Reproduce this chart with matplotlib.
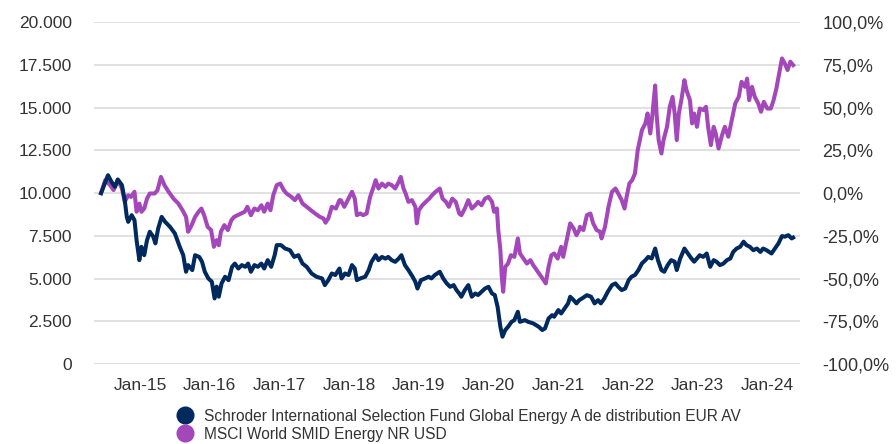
#Import required libraries
import pandas as pd
import matplotlib
matplotlib.use("Agg")
import matplotlib.pyplot as plt
import matplotlib.dates as mdates
from matplotlib.lines import Line2D
from matplotlib.ticker import FuncFormatter, MultipleLocator

plt.rcParams['font.family'] = ['Liberation Sans', 'DejaVu Sans']

#series names
fund_name = "Schroder International Selection Fund Global Energy A de distribution EUR AV"
index_name = "MSCI World SMID Energy NR USD"

#fund values (growth of 10.000), dates as decimal years
fund_years = [2014.44, 2014.54, 2014.59, 2014.64, 2014.68, 2014.74, 2014.78, 2014.81, 2014.83, 2014.88,
              2014.92, 2014.95, 2014.99, 2015.02, 2015.06, 2015.10, 2015.14, 2015.19, 2015.22, 2015.26,
              2015.31, 2015.36, 2015.43, 2015.50, 2015.57, 2015.62, 2015.66, 2015.69, 2015.75, 2015.79,
              2015.85, 2015.89, 2015.93, 2015.98, 2016.03, 2016.07, 2016.10, 2016.13,
              2016.17, 2016.22, 2016.27, 2016.32, 2016.36, 2016.41, 2016.46, 2016.51, 2016.55, 2016.59,
              2016.64, 2016.69, 2016.74, 2016.78, 2016.83, 2016.88, 2016.93, 2016.96, 2017.02, 2017.08,
              2017.15, 2017.21, 2017.27, 2017.33, 2017.39, 2017.46, 2017.53, 2017.61, 2017.65, 2017.70,
              2017.75, 2017.80, 2017.86,
              2017.89, 2017.94, 2017.99, 2018.04, 2018.08, 2018.11, 2018.16, 2018.23, 2018.28, 2018.32,
              2018.38, 2018.42, 2018.47, 2018.52, 2018.56, 2018.61, 2018.66, 2018.71, 2018.75, 2018.80,
              2018.85, 2018.91, 2018.95, 2018.98, 2019.03, 2019.09, 2019.14, 2019.18, 2019.23, 2019.30,
              2019.35, 2019.40, 2019.45, 2019.50, 2019.54, 2019.58,
              2019.61, 2019.66, 2019.71, 2019.76, 2019.81, 2019.85, 2019.90, 2019.95, 2020.00, 2020.05,
              2020.09, 2020.13, 2020.17, 2020.20, 2020.24, 2020.28, 2020.33, 2020.37, 2020.42, 2020.45,
              2020.52, 2020.57, 2020.64, 2020.72, 2020.77, 2020.81, 2020.86, 2020.91, 2020.94, 2021.00,
              2021.04, 2021.09, 2021.14, 2021.17, 2021.22, 2021.26, 2021.30,
              2021.34, 2021.41, 2021.47, 2021.52, 2021.57, 2021.61, 2021.66, 2021.71, 2021.77, 2021.82,
              2021.86, 2021.91, 2021.96, 2022.01, 2022.05, 2022.10, 2022.15, 2022.20, 2022.25, 2022.29,
              2022.34, 2022.39, 2022.43, 2022.48, 2022.52, 2022.57, 2022.62, 2022.67, 2022.70, 2022.75,
              2022.81, 2022.86, 2022.91, 2022.95,
              2023.03, 2023.08, 2023.13, 2023.18, 2023.23, 2023.27, 2023.32, 2023.37, 2023.42, 2023.47,
              2023.51, 2023.56, 2023.61, 2023.66, 2023.70, 2023.75, 2023.80, 2023.85, 2023.90, 2023.94,
              2023.99, 2024.06, 2024.11, 2024.16, 2024.21, 2024.25, 2024.30, 2024.35, 2024.37]
fund_values = [10000, 11050, 10660, 10370, 10800, 10470, 9590, 8610, 8320, 8710,
               8420, 7250, 6080, 6860, 6370, 7250, 7740, 7450, 7060, 7930,
               8610, 8320, 8030, 7640, 6860, 6370, 5400, 5790, 5500, 6370,
               6270, 5980, 5400, 5010, 4820, 3840, 4530, 3940,
               4720, 5110, 4910, 5690, 5880, 5590, 5790, 5690, 5880, 5400,
               5790, 5690, 5880, 5590, 6080, 5690, 6370, 6960, 6960, 6760,
               6660, 6270, 6370, 5880, 5690, 5300, 5110, 5010, 4620, 4910,
               5300, 5210, 5590,
               5010, 5300, 5210, 5790, 5590, 4910, 5010, 5110, 5500, 5980,
               6370, 6080, 6270, 6170, 6270, 6080, 5980, 6170, 6370, 5790,
               5500, 5110, 4810, 4420, 4910, 5010, 5110, 5010, 5210, 5400,
               5010, 4720, 4520, 4620, 4330, 4130,
               3940, 4330, 4620, 3940, 4130, 4040, 4230, 4420, 4520, 4130,
               4040, 3350, 2180, 1600, 1990, 2180, 2470, 2570, 3060, 2470,
               2570, 2470, 2380, 2180, 1990, 2090, 2670, 2860, 2770, 3160,
               2960, 3250, 3550, 3940, 3740, 3550, 3740,
               3840, 4030, 3940, 3550, 3740, 3550, 3840, 4230, 4620, 4720,
               4520, 4330, 4420, 4910, 5110, 5210, 5500, 5890, 6080, 6270,
               6180, 6760, 6080, 5500, 5400, 5790, 6080, 5990, 5500, 6180,
               6760, 6470, 6180, 5990,
               6370, 6270, 6470, 5690, 6080, 5990, 5790, 5880, 6080, 6180,
               6560, 6760, 6860, 7160, 6960, 6860, 6660, 6760, 6560, 6760,
               6660, 6470, 6760, 7060, 7490, 7450, 7540, 7350, 7400]

#index values
index_years = [2014.44, 2014.50, 2014.57, 2014.62, 2014.68, 2014.74, 2014.78, 2014.83, 2014.87, 2014.92,
               2014.95, 2014.99, 2015.02, 2015.06, 2015.10, 2015.14, 2015.21, 2015.25, 2015.30, 2015.35,
               2015.41, 2015.48, 2015.55, 2015.61, 2015.66, 2015.69, 2015.74, 2015.79, 2015.84, 2015.88,
               2015.92, 2015.97, 2016.02, 2016.06, 2016.10, 2016.13,
               2016.16, 2016.21, 2016.26, 2016.31, 2016.35, 2016.40, 2016.45, 2016.50, 2016.54, 2016.59,
               2016.64, 2016.69, 2016.74, 2016.78, 2016.83, 2016.87, 2016.91, 2016.96, 2017.01, 2017.06,
               2017.10, 2017.17, 2017.22, 2017.27, 2017.33, 2017.39, 2017.45, 2017.51, 2017.58, 2017.63,
               2017.66, 2017.70, 2017.75, 2017.81, 2017.86,
               2017.88, 2017.93, 2017.99, 2018.04, 2018.08, 2018.11, 2018.16, 2018.20, 2018.25, 2018.30,
               2018.35, 2018.38, 2018.42, 2018.47, 2018.52, 2018.56, 2018.61, 2018.66, 2018.71, 2018.74,
               2018.78, 2018.81, 2018.85, 2018.90, 2018.95, 2018.97, 2019.00, 2019.05, 2019.10, 2019.15,
               2019.19, 2019.24, 2019.30, 2019.34, 2019.39, 2019.43, 2019.48, 2019.53, 2019.58,
               2019.61, 2019.66, 2019.71, 2019.76, 2019.81, 2019.85, 2019.90, 2019.95, 2020.00, 2020.05,
               2020.08, 2020.12, 2020.14, 2020.17, 2020.19, 2020.21, 2020.24, 2020.28, 2020.32, 2020.37,
               2020.42, 2020.45, 2020.50, 2020.55, 2020.60, 2020.64, 2020.69, 2020.74, 2020.79, 2020.82,
               2020.86, 2020.90, 2020.94, 2020.99, 2021.04, 2021.07, 2021.12, 2021.17, 2021.22, 2021.26,
               2021.30,
               2021.31, 2021.36, 2021.41, 2021.46, 2021.50, 2021.55, 2021.60, 2021.62, 2021.67, 2021.72,
               2021.77, 2021.82, 2021.86, 2021.91, 2021.95, 2021.98, 2022.02, 2022.06, 2022.10, 2022.14,
               2022.17, 2022.20, 2022.25, 2022.28, 2022.32, 2022.35, 2022.39, 2022.41, 2022.44, 2022.48,
               2022.51, 2022.56, 2022.60, 2022.64, 2022.67, 2022.70, 2022.73, 2022.77, 2022.81, 2022.84,
               2022.89, 2022.92, 2022.95, 2022.99,
               2023.03, 2023.08, 2023.12, 2023.15, 2023.19, 2023.23, 2023.26, 2023.30, 2023.35, 2023.39,
               2023.44, 2023.49, 2023.54, 2023.59, 2023.63, 2023.68, 2023.71, 2023.74, 2023.78, 2023.82,
               2023.87, 2023.91, 2023.95, 2024.00, 2024.05, 2024.09, 2024.13, 2024.17, 2024.21, 2024.25,
               2024.29, 2024.33, 2024.37]
index_values = [10000, 10760, 10470, 10180, 10760, 10280, 9490, 9880, 9780, 10080,
                8910, 9390, 8910, 9100, 9680, 9980, 9980, 10170, 10950, 10470,
                10080, 9680, 9390, 9000, 8610, 7740, 8120, 8610, 8910, 9100,
                8710, 8030, 7840, 6860, 7250, 6950,
                7740, 8130, 7840, 8420, 8610, 8710, 8810, 8910, 9200, 8710,
                9100, 9000, 9290, 8910, 9390, 9000, 9880, 10470, 10560, 10180,
                9980, 9780, 9590, 9880, 9390, 9200, 9000, 8810, 8610, 8520,
                8270, 8520, 9200, 9100, 9590,
                9590, 9200, 9680, 10080, 9680, 8710, 8810, 8710, 8810, 9780,
                10370, 10760, 10270, 10560, 10370, 10560, 10470, 10270, 10660, 10950,
                10270, 9980, 9490, 9590, 9200, 8230, 9000, 9290, 9490, 9680,
                9880, 10080, 10270, 9680, 9490, 9200, 9680, 9490, 8810,
                8710, 9100, 9590, 9100, 9290, 9490, 9290, 9680, 9780, 9490,
                8910, 9100, 7840, 6670, 5110, 4230, 5690, 5880, 6370, 6270,
                7350, 6470, 6170, 5880, 6080, 5790, 5500, 5210, 4910, 4720,
                5690, 6370, 6470, 6170, 6860, 6270, 7250, 8230, 7930, 7540,
                7840,
                8030, 7840, 8710, 8810, 8230, 7840, 7740, 7350, 8030, 9200,
                10080, 10270, 9980, 9590, 9100, 9780, 10570, 10760, 11150, 12520,
                13100, 13690, 14080, 14660, 13490, 14570, 16300, 14660, 13100, 12320,
                13100, 13880, 15050, 15630, 14660, 13100, 14660, 15540, 16610, 16020,
                15430, 14080, 14660, 13880,
                14950, 14860, 15050, 13880, 12810, 13880, 13490, 12610, 13390, 13880,
                13300, 14270, 15250, 15630, 16510, 16220, 16700, 15440, 16220, 15630,
                15250, 14760, 15340, 14950, 14950, 15440, 16120, 17000, 17880, 17590,
                17200, 17690, 17490]


#turn decimal years into real dates
def to_dates(years):
    out = []
    for y in years:
        start = pd.Timestamp(int(y), 1, 1)
        end = pd.Timestamp(int(y) + 1, 1, 1)
        out.append(start + (end - start) * (y - int(y)))
    return out


fund_dates = to_dates(fund_years)
index_dates = to_dates(index_years)

navy = '#00295e'
purple = '#a347ba'
text_col = '#333333'

fig = plt.figure(figsize=(8.96, 4.44), dpi=100)
ax = fig.add_axes([0.105, 0.180, 0.788, 0.770])

#grid lines
for v in range(0, 20001, 2500):
    ax.axhline(v, color='#dcdcdc', lw=1.2, zorder=0)

ax.plot(index_dates, index_values, color=purple, lw=2.9, zorder=2, solid_joinstyle='round')
ax.plot(fund_dates, fund_values, color=navy, lw=2.9, zorder=3, solid_joinstyle='round')

ax.set_ylim(0, 20000)
ax.set_xlim(to_dates([2014.34])[0], to_dates([2024.47])[0])
ax.yaxis.set_major_locator(MultipleLocator(2500))
ax.yaxis.set_major_formatter(FuncFormatter(lambda v, p: f"{int(v):,}".replace(",", ".")))
ax.xaxis.set_major_locator(mdates.YearLocator())
ax.xaxis.set_major_formatter(mdates.DateFormatter('%b-%y'))

for s in ax.spines.values():
    s.set_visible(False)
ax.tick_params(axis='y', length=0, pad=16, labelsize=12.5, labelcolor=text_col)
ax.tick_params(axis='x', length=0, pad=10, labelsize=12.5, labelcolor=text_col)

#right axis in percent
ax2 = ax.twinx()
ax2.set_ylim(-1, 1)
ax2.yaxis.set_major_locator(MultipleLocator(0.25))
ax2.yaxis.set_major_formatter(FuncFormatter(lambda v, p: f"{v * 100:.1f}%".replace(".", ",")))
for s in ax2.spines.values():
    s.set_visible(False)
ax2.tick_params(axis='y', length=0, pad=16, labelsize=13, labelcolor=text_col)

#legend
handles = [Line2D([], [], marker='o', ls='', color=navy, markersize=12),
           Line2D([], [], marker='o', ls='', color=purple, markersize=12)]
fig.legend(handles, [fund_name, index_name], loc='upper left', bbox_to_anchor=(0.189, 0.097),
           frameon=False, fontsize=11.2, labelcolor=text_col, handletextpad=0.75,
           labelspacing=0.18, borderpad=0, handlelength=1.0)

fig.savefig('out.png', dpi=100)
